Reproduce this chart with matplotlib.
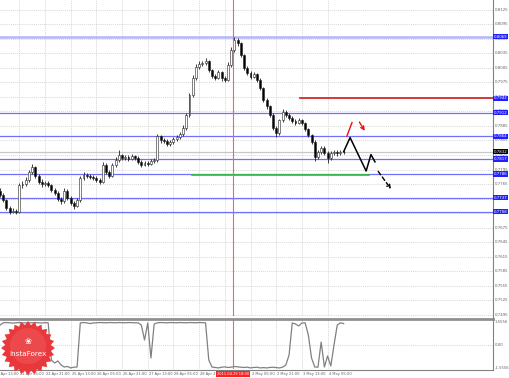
import matplotlib
matplotlib.use("Agg")
import matplotlib.pyplot as plt
import numpy as np
from matplotlib.patches import Polygon, Rectangle

# ---------------- data ----------------
first_open = 0.7750
closes = [
    0.7743,0.7732,0.7716,0.7708,0.7710,0.7708,0.7763,0.7765,0.7774,0.7790,
    0.7800,0.7782,0.7770,0.7765,0.7767,0.7763,0.7753,0.7747,0.7735,0.7730,
    0.7751,0.7737,0.7726,0.7720,0.7732,0.7778,0.7784,0.7782,0.7780,0.7778,
    0.7774,0.7770,0.7805,0.7790,0.7782,0.7805,0.7815,0.7825,0.7819,0.7821,
    0.7817,0.7823,0.7819,0.7811,0.7805,0.7809,0.7807,0.7813,0.7815,0.7864,
    0.7856,0.7854,0.7848,0.7852,0.7858,0.7862,0.7869,0.7881,0.7908,0.7949,
    0.7984,0.8007,0.8013,0.8015,0.8019,0.8000,0.7988,0.7984,0.7996,0.7984,
    0.7980,0.8011,0.8042,0.8062,0.8056,0.8031,0.8004,0.7994,0.7986,0.7992,
    0.7980,0.7963,0.7939,0.7926,0.7908,0.7881,0.7871,0.7897,0.7914,0.7908,
    0.7902,0.7895,0.7891,0.7897,0.7891,0.7879,0.7866,0.7852,0.7821,0.7831,
    0.7839,0.7829,0.7819,0.7829,0.7831,0.7829,0.7831,0.7832]
highs = [
    0.7756,0.7747,0.7735,0.7719,0.7715,0.7714,0.7767,0.7771,0.7779,0.7795,
    0.7806,0.7803,0.7786,0.7775,0.7772,0.7771,0.7766,0.7757,0.7750,0.7739,
    0.7757,0.7755,0.7741,0.7730,0.7736,0.7782,0.7789,0.7788,0.7786,0.7784,
    0.7781,0.7778,0.7810,0.7808,0.7794,0.7809,0.7820,0.7836,0.7828,0.7826,
    0.7825,0.7828,0.7826,0.7822,0.7814,0.7813,0.7812,0.7817,0.7819,0.7868,
    0.7867,0.7860,0.7858,0.7857,0.7862,0.7866,0.7873,0.7886,0.7912,0.7954,
    0.7990,0.8012,0.8018,0.8020,0.8025,0.8022,0.8003,0.7993,0.8000,0.7999,
    0.7988,0.8016,0.8047,0.8069,0.8066,0.8058,0.8034,0.8009,0.7998,0.7997,
    0.7995,0.7983,0.7965,0.7942,0.7929,0.7911,0.7885,0.7900,0.7919,0.7918,
    0.7911,0.7905,0.7899,0.7902,0.7900,0.7894,0.7881,0.7868,0.7855,0.7836,
    0.7843,0.7843,0.7833,0.7834,0.7835,0.7836,0.7835,0.7836]
lows = [
    0.7739,0.7728,0.7712,0.7703,0.7705,0.7704,0.7705,0.7758,0.7761,0.7770,
    0.7786,0.7778,0.7765,0.7760,0.7761,0.7759,0.7749,0.7742,0.7731,0.7725,
    0.7727,0.7733,0.7721,0.7714,0.7717,0.7729,0.7774,0.7777,0.7776,0.7773,
    0.7769,0.7765,0.7767,0.7785,0.7777,0.7779,0.7801,0.7811,0.7814,0.7815,
    0.7812,0.7814,0.7814,0.7806,0.7800,0.7802,0.7802,0.7804,0.7809,0.7811,
    0.7850,0.7849,0.7843,0.7844,0.7848,0.7854,0.7859,0.7865,0.7877,0.7904,
    0.7945,0.7979,0.8003,0.8008,0.8011,0.7996,0.7984,0.7979,0.7981,0.7978,
    0.7975,0.7977,0.8007,0.8038,0.8050,0.8027,0.8000,0.7990,0.7981,0.7983,
    0.7976,0.7959,0.7935,0.7921,0.7904,0.7876,0.7862,0.7867,0.7893,0.7903,
    0.7898,0.7891,0.7887,0.7888,0.7887,0.7875,0.7862,0.7848,0.7812,0.7817,
    0.7827,0.7825,0.7809,0.7815,0.7825,0.7824,0.7826,0.7827]
indicator = [
    1.35,1.50,1.52,1.50,1.48,1.50,1.52,1.50,1.49,1.51,
    1.50,1.52,1.50,1.49,1.51,1.50,-1.01,-1.22,-1.08,-1.35,
    -1.49,-1.45,-1.55,-1.50,-1.49,1.49,1.52,1.50,1.45,1.49,
    1.50,1.52,1.51,1.50,1.52,1.51,1.50,1.52,1.51,1.50,
    1.52,1.51,1.50,1.50,1.35,0.34,1.49,-0.88,1.42,1.50,
    1.52,1.51,1.50,1.52,1.51,1.50,1.52,1.51,1.50,1.52,
    1.51,1.50,1.52,1.51,1.50,-1.01,-1.49,-1.52,-1.55,-1.50,
    -1.48,-1.52,-1.50,-1.45,-1.48,-1.50,-1.52,-1.50,-1.55,-1.52,
    -1.50,-1.55,-1.53,-1.55,-1.52,-1.50,-1.53,-1.55,-1.50,-1.35,
    -0.68,1.49,1.42,1.29,1.49,1.50,0.68,-0.88,-1.49,-1.50,
    0.20,-1.49,-0.74,-1.42,0.00,1.35,1.50,1.45]

hours_per_candle = 2
tick_hours = [-4, 12, 28, 44, 60, 76, 92, 108, 124, 140, 156, 172, 188, 204]
tick_labels = ["21 Apr 13:00", "22 Apr 05:00", "22 Apr 21:00", "25 Apr 13:00",
               "26 Apr 05:00", "26 Apr 21:00", "27 Apr 13:00", "28 Apr 05:00",
               "28 Apr 21:00", "29 Apr 13:00", "2 May 05:00", "2 May 21:00",
               "3 May 13:00", "4 May 05:00"]
price_ticks = [round(0.7495 + 0.003 * k, 4) for k in range(22)]

blue_levels = [0.7912, 0.7864, 0.7817, 0.7786, 0.7737, 0.7708]
top_level = 0.8069
red_level = 0.7942
red_level_start = 187
green_level = 0.7784
green_span = (119.5, 230)
current_price = 0.7832
marker_hour = 145
marker_label = "2011.04.29 18:00"

# forecast paths (hour, price)
fc_solid_h = [214, 218, 228, 231, 233.5]
fc_solid_p = [0.7832, 0.7861, 0.7792, 0.7826, 0.7811]
fc_dash_h = [234.5, 244.5]
fc_dash_p = [0.7796, 0.7750]
red_up_h = [216, 219.2]
red_up_p = [0.7864, 0.7892]
red_dn_h = [222.9, 228]
red_dn_p = [0.7898, 0.7870]

ind_ticks = [1.5556, 0.0, -1.5556]
ind_tick_labels = ["1.5556", "0.00", "-1.5556"]

# ---------------- figure ----------------
W, H = 510, 378
fig = plt.figure(figsize=(W / 100, H / 100), dpi=100)
fig.patch.set_facecolor("white")

x_max = 307
ax = fig.add_axes([0, 1 - 316 / H, 493 / W, 316 / H])
axi = fig.add_axes([0, 1 - 369 / H, 493 / W, 49 / H])

grid_kw = dict(color="#c8c8c8", lw=0.5, ls=(0, (1.5, 1.5)), zorder=0)

n = len(closes)
xs = np.arange(n) * hours_per_candle
opens = [first_open] + closes[:-1]

ax.set_xlim(0, x_max)
ax.set_ylim(0.7493, 0.81448)
for th in tick_hours:
    ax.axvline(th, **grid_kw)
    axi.axvline(th, **grid_kw)
for pt in price_ticks:
    ax.axhline(pt, **grid_kw)

# levels
ax.axhline(top_level, color="#b4b4ff", lw=1.8, zorder=1)
for lv in blue_levels:
    ax.axhline(lv, color="#7070ff", lw=0.9, zorder=1)
ax.axhline(current_price, color="#c8c8c8", lw=0.9, zorder=1)
ax.plot([red_level_start, x_max], [red_level, red_level], color="#d01818", lw=1.2, zorder=2)
ax.plot(list(green_span), [green_level, green_level], color="#30c030", lw=1.2, zorder=2)

# candles
ax.vlines(xs, lows, highs, color="#202020", lw=0.6, zorder=3)
for x, o, c in zip(xs, opens, closes):
    lo, hi = min(o, c), max(o, c)
    hgt = max(hi - lo, 0.00004)
    fc = "white" if c >= o else "black"
    ax.add_patch(Rectangle((x - 0.6, lo), 1.2, hgt, facecolor=fc, edgecolor="#202020",
                           lw=0.4, zorder=4))

# vertical marker
for a in (ax, axi):
    a.axvline(marker_hour, color="#ff6060", lw=0.8, zorder=5)

# forecast arrows
ax.plot(fc_solid_h, fc_solid_p, color="black", lw=1.1, zorder=6)
ax.annotate("", xy=(fc_dash_h[1], fc_dash_p[1]), xytext=(fc_dash_h[0], fc_dash_p[0]),
            arrowprops=dict(arrowstyle="->", color="black", lw=1.0, ls=(0, (3, 2)),
                            mutation_scale=6), zorder=6)
ax.plot(red_up_h, red_up_p, color="#ee1010", lw=1.0, zorder=6)
ax.annotate("", xy=(red_dn_h[1], red_dn_p[1]), xytext=(red_dn_h[0], red_dn_p[0]),
            arrowprops=dict(arrowstyle="->", color="#ee1010", lw=1.0, mutation_scale=6), zorder=6)

# axes styling
for a in (ax, axi):
    a.set_xticks([])
    a.set_yticks([])
    for s in a.spines.values():
        s.set_visible(False)
    a.set_facecolor("white")

# right price labels
fs = 2.8
for pt in price_ticks:
    fig.text(495 / W, ax.transData.transform((0, pt))[1] / H, f"{pt:.4f}",
             fontsize=fs, color="#606060", va="center", ha="left")

def box_label(val, bg, fg="white"):
    y = ax.transData.transform((0, val))[1] / H
    fig.text(494 / W, y, f"{val:.4f}", fontsize=fs, color=fg, va="center", ha="left",
             bbox=dict(boxstyle="square,pad=0.15", facecolor=bg, edgecolor="none"), zorder=10)

box_label(top_level, "#2020ff")
box_label(red_level, "#2020ff")
for lv in blue_levels:
    box_label(lv, "#2020ff")
box_label(current_price, "black")

# indicator panel
axi.set_xlim(0, x_max)
axi.set_ylim(-1.623, 1.691)
axi.axhline(0.0, **grid_kw)
axi.plot(xs, indicator, color="#808080", lw=0.9, zorder=3)
for v, lab in zip(ind_ticks, ind_tick_labels):
    y = axi.transData.transform((0, v))[1] / H
    fig.text(495 / W, y, lab, fontsize=fs, color="#606060", va="center", ha="left")

# frames
fig.add_artist(plt.Line2D([0, 493 / W], [1 - 319 / H] * 2, color="#909090", lw=2.0))
fig.add_artist(plt.Line2D([493 / W] * 2, [1 - 370 / H, 1], color="#808080", lw=0.8))
fig.add_artist(plt.Line2D([0, 493 / W], [1 - 369.5 / H] * 2, color="#808080", lw=0.8))

# x labels
for th, lab in zip(tick_hours, tick_labels):
    xp = ax.transData.transform((th, 0))[0] / W
    fig.text(xp + 1 / W, 1 - 374 / H, lab, fontsize=2.6, color="#606060", va="center", ha="left")
mx = ax.transData.transform((marker_hour, 0))[0] / W
fig.text(mx, 1 - 374 / H, marker_label, fontsize=2.6, color="white", va="center", ha="center",
         bbox=dict(boxstyle="square,pad=0.25", facecolor="#ff2020", edgecolor="none"), zorder=10)

# InstaForex logo
cx, cy, r1, r2 = 28 / W, 1 - 348 / H, 27, 23
ang = np.linspace(0, 2 * np.pi, 49)[:-1]
rad = np.where(np.arange(48) % 2 == 0, r1, r2)
px = cx + rad * np.cos(ang) / W
py = cy + rad * np.sin(ang) / H
fig.add_artist(Polygon(np.c_[px, py], closed=True, facecolor="#e8383c", edgecolor="none",
                       transform=fig.transFigure, zorder=8))
ang2 = np.linspace(0, 2 * np.pi, 60)
fig.add_artist(Polygon(np.c_[cx + 18 * np.cos(ang2) / W, cy + 2 / H + 18 * np.sin(ang2) / H],
                       closed=True, facecolor="#f05a5e", edgecolor="none", alpha=0.5,
                       transform=fig.transFigure, zorder=8))
fig.text(cx, cy - 6 / H, "InstaForex", fontsize=5.2, color="white", ha="center", va="center", zorder=9)
fig.text(cx, cy + 6 / H, "\u2740", fontsize=6, color="white", ha="center", va="center", zorder=9)

fig.savefig("out.png", dpi=100, facecolor="white")
